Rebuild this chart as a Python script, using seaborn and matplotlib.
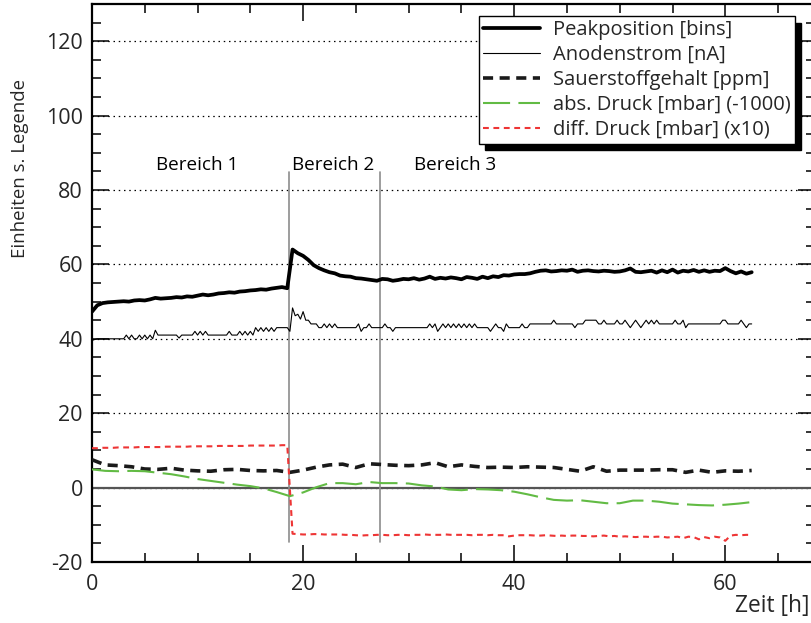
import numpy as np
import pandas as pd
import matplotlib
matplotlib.use("Agg")
import matplotlib.pyplot as plt
import seaborn as sns
from matplotlib.ticker import MultipleLocator

# Sampling intervals of the logged quantities [h]
dt_peak = 0.5
dt_anode = 0.25
dt_slow = 1.25
dt_diff = 0.5

# Peak position of the detector spectrum [bins], one value per 0.5 h
peakposition = [
    47.3, 49.0, 49.6, 49.8, 49.9, 50.0, 50.1, 50.0, 50.3, 50.4,
    50.3, 50.6, 51.0, 50.8, 50.9, 51.0, 51.2, 51.1, 51.4, 51.3,
    51.6, 51.9, 51.7, 51.9, 52.2, 52.3, 52.5, 52.4, 52.7, 52.8,
    53.0, 53.1, 53.3, 53.2, 53.5, 53.7, 53.9, 53.6, 64.0, 63.0,
    62.3, 61.2, 59.8, 59.0, 58.4, 57.9, 57.6, 57.0, 56.8, 56.7,
    56.3, 56.2, 56.0, 55.8, 55.6, 56.1, 56.0, 55.6, 55.8, 56.1,
    56.0, 56.3, 55.9, 56.2, 56.7, 56.1, 56.4, 56.2, 56.5, 56.3,
    56.0, 56.6, 56.4, 56.1, 56.7, 56.3, 56.8, 56.6, 57.1, 57.0,
    57.3, 57.4, 57.4, 57.6, 58.0, 58.3, 58.4, 58.1, 58.2, 58.4,
    58.3, 58.6, 58.0, 58.3, 58.4, 58.2, 58.1, 58.3, 58.2, 58.0,
    58.1, 58.4, 58.9, 58.0, 57.9, 58.1, 58.3, 57.8, 58.4, 57.9,
    58.6, 57.8, 58.3, 58.1, 58.5, 58.0, 58.4, 58.0, 58.3, 58.2,
    59.0, 58.2, 57.6, 58.1, 57.5, 57.9,
]

# Anode current [nA], one value per 0.25 h
anodenstrom = [
    39.6, 39.8, 40, 40, 40, 40, 40, 40, 40, 40, 40, 40, 40, 41, 40, 41, 40, 40, 41, 40,
    41, 40, 41, 40, 42.3, 41, 41, 41, 41, 41, 41, 41, 41, 40.2, 41, 41, 41, 41, 41, 42,
    41, 42, 41, 42, 41, 41, 41, 41, 41, 41, 41, 41, 42, 41, 41, 41, 42, 41, 42, 41,
    42, 41, 43, 42, 43, 42, 43, 42, 43, 42, 43, 43, 43, 43, 43, 42, 48.3, 46.2, 46.6, 45.3,
    47.3, 45, 45, 44, 44, 44, 43, 43, 44, 43, 44, 43, 44, 43, 43, 43, 43, 43, 43, 43,
    43, 44, 42, 43, 43, 44, 43, 43, 43, 43, 43, 44, 43, 43, 42, 43, 43, 43, 43, 43,
    43, 43, 43, 43, 43, 43, 43, 43, 44, 43, 44, 42, 43, 44, 43, 44, 43, 44, 43, 44,
    43, 44, 43, 44, 43, 44, 43, 43, 43, 43, 43, 42, 43, 44, 43, 43, 42, 44, 43, 43,
    43, 43, 43, 44, 43, 43, 44, 44, 44, 44, 44, 44, 44, 44, 44, 45, 44, 44, 44, 44,
    44, 44, 44, 43, 44, 44, 44, 45, 45, 45, 45, 45, 44, 44, 45, 44, 44, 44, 44, 45,
    44, 44, 45, 44, 43, 44, 45, 44, 43, 44, 45, 44, 45, 44, 45, 44, 44, 44, 44, 44,
    44, 45, 44, 44, 45, 43, 44, 44, 44, 44, 44, 44, 44, 44, 44, 44, 44, 44, 44, 45,
    45, 44, 44, 44, 44, 44, 45, 44, 43, 44, 44,
]

# Oxygen content [ppm], one value per 1.25 h
sauerstoffgehalt = [
    7.5, 6.1, 5.9, 5.6, 5.0, 4.9, 5.2, 4.7, 4.5, 4.4,
    4.8, 4.9, 4.6, 4.5, 4.6, 4.1, 4.7, 5.5, 6.1, 6.3,
    5.4, 6.4, 6.2, 6.0, 5.9, 6.1, 6.7, 5.6, 6.1, 5.7,
    5.4, 5.5, 5.4, 5.6, 5.5, 5.4, 4.9, 4.4, 5.6, 4.4,
    4.7, 4.7, 4.7, 4.8, 4.8, 4.1, 4.7, 4.1, 4.5, 4.4,
    4.6,
]

# Absolute pressure [mbar] minus 1000, one value per 1.25 h
abs_druck = [
    4.9, 4.5, 4.4, 4.5, 4.4, 4.0, 3.6, 3.0, 2.3, 1.8,
    1.3, 0.8, 0.4, -0.2, -1.2, -2.3, -1.3, 0.1, 1.2, 1.2,
    0.9, 1.5, 1.2, 1.2, 1.1, 0.6, 0.3, -0.5, -0.7, -0.4,
    -0.5, -0.7, -1.1, -1.8, -2.6, -3.3, -3.5, -3.4, -3.8, -4.2,
    -4.2, -3.5, -3.5, -3.8, -4.3, -4.5, -4.7, -4.8, -4.6, -4.3,
    -3.9,
]

# Differential pressure [mbar] times 10, one value per 0.5 h
diff_druck = [
    10.6, 10.6, 10.7, 10.7, 10.7, 10.8, 10.8, 10.8, 10.8, 10.9,
    10.9, 10.9, 10.9, 10.9, 11.0, 11.0, 11.0, 11.0, 11.0, 11.1,
    11.1, 11.1, 11.1, 11.1, 11.2, 11.2, 11.2, 11.2, 11.2, 11.2,
    11.3, 11.3, 11.3, 11.3, 11.3, 11.3, 11.4, 11.4,
    -12.4, -12.5, -12.6, -12.6, -12.5, -12.5, -12.6, -12.6, -12.6, -12.6,
    -12.7, -12.7, -12.8, -12.9, -12.8, -12.8, -12.7, -12.7, -12.8, -12.8,
    -12.7, -12.7, -12.8, -12.7, -12.7, -12.6, -12.7, -12.7, -12.7, -12.6,
    -12.7, -12.7, -12.7, -12.7, -12.8, -12.7, -12.7, -12.8, -12.7, -12.8,
    -12.8, -13.1, -12.9, -12.8, -12.8, -12.8, -12.9, -12.9, -12.8, -12.9,
    -13.0, -12.9, -13.0, -12.9, -12.9, -13.0, -13.0, -13.1, -13.0, -12.9,
    -13.1, -13.0, -13.2, -13.1, -13.2, -13.3, -13.2, -13.2, -13.3, -13.2,
    -13.2, -13.4, -13.3, -13.2, -13.6, -13.2, -13.3, -13.9, -13.3, -13.6,
    -13.2, -13.4, -14.3, -12.9, -12.7, -12.8, -12.7, -12.7,
]

legend_labels = [
    "Peakposition [bins]",
    "Anodenstrom [nA]",
    "Sauerstoffgehalt [ppm]",
    "abs. Druck [mbar] (-1000)",
    "diff. Druck [mbar] (x10)",
]

# Boundaries between the measurement regions [h] and the labels above them
bereich_grenzen = [18.7, 27.3]
bereich_namen = ["Bereich 1", "Bereich 2", "Bereich 3"]
bereich_text_x = [10.0, 22.8, 34.4]
bereich_text_y = 86.6
grenze_y_unten = -14.6
grenze_y_oben = 84.8


def series_frame(values, dt):
    return pd.DataFrame({"t": np.arange(len(values)) * dt, "v": values})


sns.set_theme(style="ticks")
plt.rcParams["font.family"] = ["Open Sans", "DejaVu Sans"]
plt.rcParams["axes.unicode_minus"] = False

fig = plt.figure(figsize=(8.11, 6.23), dpi=100)
ax = fig.add_axes([92 / 811, 61 / 623, 723 / 811, 558 / 623])

styles = [
    dict(data=series_frame(peakposition, dt_peak), color="black", linewidth=2.7,
         linestyle="-"),
    dict(data=series_frame(anodenstrom, dt_anode), color="black", linewidth=0.8,
         linestyle="-"),
    dict(data=series_frame(sauerstoffgehalt, dt_slow), color="#1a1a1a", linewidth=2.6,
         linestyle=(0, (2.8, 1.8))),
    dict(data=series_frame(abs_druck, dt_slow), color="#62bb44", linewidth=1.5,
         linestyle=(0, (13, 4))),
    dict(data=series_frame(diff_druck, dt_diff), color="#ee3535", linewidth=1.5,
         linestyle=(0, (2.8, 2.2))),
]

handles = []
for label, st in zip(legend_labels, styles):
    sns.lineplot(data=st["data"], x="t", y="v", ax=ax, estimator=None, sort=False,
                 color=st["color"], linewidth=st["linewidth"],
                 linestyle=st["linestyle"], label=label, legend=False, zorder=3)
    handles.append(ax.lines[-1])

# region boundaries and labels
for xb in bereich_grenzen:
    ax.plot([xb, xb], [grenze_y_unten, grenze_y_oben], color="#8c8c8c",
            linewidth=1.2, zorder=2)
for name, xt in zip(bereich_namen, bereich_text_x):
    ax.text(xt, bereich_text_y, name, ha="center", va="center", fontsize=13.6,
            color="black")

ax.set_xlim(0, 68.5)
ax.set_ylim(-20, 130)
ax.xaxis.set_major_locator(MultipleLocator(20))
ax.xaxis.set_minor_locator(MultipleLocator(5))
ax.yaxis.set_major_locator(MultipleLocator(20))
ax.yaxis.set_minor_locator(MultipleLocator(5))

ax.set_axisbelow(True)
ax.yaxis.grid(True, which="major", linestyle=(0, (1.2, 3.0)), linewidth=0.9,
              color="black")
ax.xaxis.grid(False)
ax.axhline(0, color="#555555", linewidth=1.6, zorder=1.5)

for side in ["left", "right", "top", "bottom"]:
    ax.spines[side].set_visible(True)
    ax.spines[side].set_linewidth(1.6)
    ax.spines[side].set_color("black")

ax.tick_params(axis="both", which="both", direction="in", top=True, right=True,
               color="black", width=1.1)
ax.tick_params(axis="both", which="major", length=12, labelsize=15.5)
ax.tick_params(axis="both", which="minor", length=6.5)
ax.tick_params(axis="y", which="major", pad=6.5)
ax.tick_params(axis="x", which="major", pad=9)

ax.set_xlabel("Zeit [h]", fontsize=16.4, loc="right")
ax.xaxis.label.set_va("center")
ax.xaxis.set_label_coords(0.992, -0.079)
ax.set_ylabel("Einheiten s. Legende", fontsize=13.4, loc="top")
ax.yaxis.label.set_va("center")
ax.yaxis.set_label_coords(-0.0996, 0.866)

leg = ax.legend(handles=handles, labels=legend_labels, loc="upper right",
                bbox_to_anchor=(0.9723, 0.978), borderaxespad=0, fontsize=14.5,
                frameon=True, fancybox=False, edgecolor="black", framealpha=1,
                handlelength=2.85, handletextpad=0.65, labelspacing=0.24,
                borderpad=0.2,
                shadow={"ox": 4.5, "oy": -4.5, "color": "black", "alpha": 1})
leg.get_frame().set_linewidth(1.0)
leg.set_zorder(5)

fig.savefig("out.png", dpi=100)
